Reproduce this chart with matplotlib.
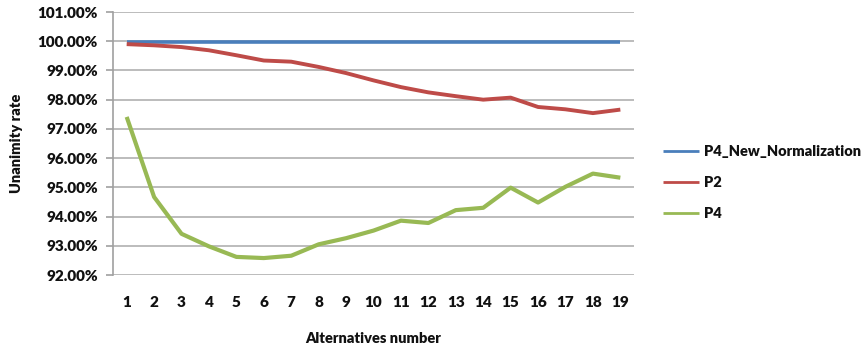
import matplotlib
matplotlib.use("Agg")
import matplotlib.pyplot as plt
from matplotlib.ticker import FuncFormatter, MultipleLocator

# Data
alternatives = list(range(1, 20))
p4_new_normalization = [99.97] * 19
p2 = [99.90, 99.86, 99.80, 99.69, 99.52, 99.34, 99.30, 99.12, 98.91, 98.66,
      98.43, 98.25, 98.12, 98.00, 98.07, 97.75, 97.67, 97.54, 97.66]
p4 = [97.41, 94.67, 93.41, 92.98, 92.62, 92.58, 92.66, 93.05, 93.26, 93.52,
      93.86, 93.78, 94.22, 94.30, 94.99, 94.48, 95.02, 95.47, 95.33]
series_names = ["P4_New_Normalization", "P2", "P4"]
series_colors = ["#4A7EBB", "#BE4B48", "#98B954"]

plt.rcParams["font.family"] = ["Lato", "DejaVu Sans"]

fig = plt.figure(figsize=(8.65, 3.49), dpi=100)
ax = fig.add_axes([0.1306, 0.212, 0.6024, 0.7536])

for vals, name, col, lw in zip([p4_new_normalization, p2, p4], series_names,
                               series_colors, [2.6, 2.8, 3.0]):
    ax.plot(alternatives, vals, color=col, lw=lw, label=name,
            solid_capstyle="butt", solid_joinstyle="round")

ax.set_xlim(0.5, 19.5)
ax.set_ylim(92, 101)
ax.yaxis.set_major_locator(MultipleLocator(1))
ax.yaxis.set_major_formatter(FuncFormatter(lambda v, p: f"{v:.2f}%"))
ax.set_xticks(alternatives)
ax.grid(axis="y", color="#B0B0B0", lw=1.2)
ax.set_axisbelow(True)

for s in ["top", "right", "bottom"]:
    ax.spines[s].set_visible(False)
ax.spines["left"].set_color("#A0A0A0")
ax.spines["left"].set_linewidth(1.2)

ax.tick_params(axis="y", length=5, color="#A0A0A0", width=1.2, pad=6,
               labelsize=11, labelcolor="#111111")
ax.tick_params(axis="x", length=0, pad=15, labelsize=11, labelcolor="#111111")
for lab in ax.get_xticklabels() + ax.get_yticklabels():
    lab.set_fontweight("heavy")

ax.set_xlabel("Alternatives number", fontsize=10.5, fontweight="heavy",
              labelpad=17, color="#111111")
ax.set_ylabel("Unanimity rate", fontsize=10.5, fontweight="heavy",
              labelpad=10, color="#111111")

leg = fig.legend(loc="upper left", bbox_to_anchor=(0.751, 0.623),
                 frameon=False, fontsize=10.5, handlelength=2.5,
                 handletextpad=0.3, labelspacing=1.25)
for t in leg.get_texts():
    t.set_fontweight("heavy")
    t.set_color("#111111")
for h in leg.get_lines():
    h.set_linewidth(2.0)

fig.savefig("out.png", dpi=100)
